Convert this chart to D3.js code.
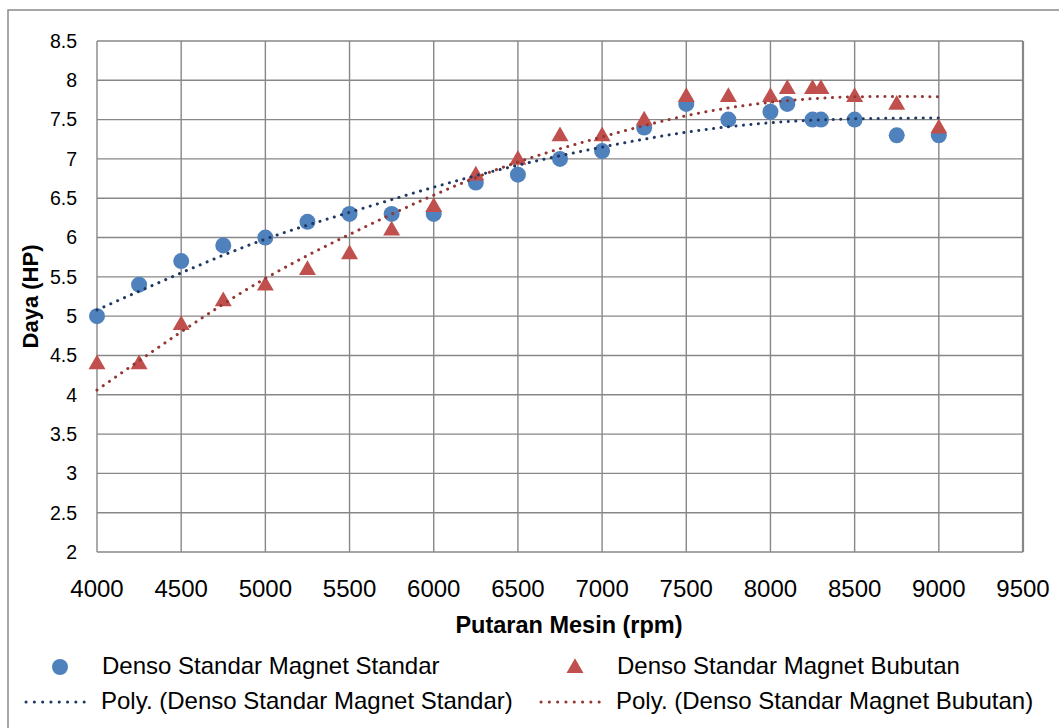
<!DOCTYPE html>
<html>
<head>
<meta charset="utf-8">
<script src="https://cdn.jsdelivr.net/npm/d3@7"></script>
<style>
  html, body { margin: 0; padding: 0; background: #fff; }
  svg { display: block; font-family: "Liberation Sans", Arial, sans-serif; }
</style>
</head>
<body>
<svg id="chart" width="1059" height="728"></svg>
<script>
// data
const rpm = [4000, 4250, 4500, 4750, 5000, 5250, 5500, 5750, 6000, 6250, 6500, 6750,
             7000, 7250, 7500, 7750, 8000, 8100, 8250, 8300, 8500, 8750, 9000];
const dayaStandar = [5.0, 5.4, 5.7, 5.9, 6.0, 6.2, 6.3, 6.3, 6.3, 6.7, 6.8, 7.0,
                     7.1, 7.4, 7.7, 7.5, 7.6, 7.7, 7.5, 7.5, 7.5, 7.3, 7.3];
const dayaBubutan = [4.4, 4.4, 4.9, 5.2, 5.4, 5.6, 5.8, 6.1, 6.4, 6.8, 7.0, 7.3,
                     7.3, 7.5, 7.8, 7.8, 7.8, 7.9, 7.9, 7.9, 7.8, 7.7, 7.4];
// trendline (poly) values as seen in the picture
const trendRpm = [4000, 4500, 5000, 5500, 6000, 6500, 7000, 7500, 8000, 8500, 9000];
const trendStandar = [5.08, 5.55, 5.98, 6.32, 6.64, 6.92, 7.15, 7.34, 7.46, 7.51, 7.52];
const trendBubutan = [4.06, 4.80, 5.48, 6.04, 6.54, 6.96, 7.28, 7.55, 7.72, 7.79, 7.79];

const xTicks = d3.range(4000, 9501, 500);
const yTicks = d3.range(2, 8.51, 0.5);

const legendItems = [
  { label: 'Denso Standar Magnet Standar', kind: 'circle', color: '#4F81BD', col: 0, row: 0 },
  { label: 'Denso Standar Magnet Bubutan', kind: 'triangle', color: '#C0504D', col: 1, row: 0 },
  { label: 'Poly. (Denso Standar Magnet Standar)', kind: 'dots', color: '#1F3864', col: 0, row: 1 },
  { label: 'Poly. (Denso Standar Magnet Bubutan)', kind: 'dots', color: '#943634', col: 1, row: 1 }
];

const svg = d3.select('#chart');

// outer chart border (cropped on right and bottom)
svg.append('rect').attr('x', 8).attr('y', 10).attr('width', 1100).attr('height', 800)
  .attr('fill', '#fff').attr('stroke', '#8a8a8a').attr('stroke-width', 1.5);

const x = d3.scaleLinear().domain([4000, 9500]).range([97, 1023]);
const y = d3.scaleLinear().domain([2, 8.5]).range([552, 41]);

// grid
const grid = svg.append('g').attr('stroke', '#878787').attr('stroke-width', 1.4);
grid.selectAll('line.v').data(xTicks).join('line').attr('class', 'v')
  .attr('x1', d => x(d)).attr('x2', d => x(d)).attr('y1', y(2)).attr('y2', y(8.5));
grid.selectAll('line.h').data(yTicks).join('line').attr('class', 'h')
  .attr('x1', x(4000)).attr('x2', x(9500)).attr('y1', d => y(d)).attr('y2', d => y(d));
grid.append('line').attr('x1', x(9500)).attr('x2', x(9500)).attr('y1', y(8.5)).attr('y2', y(2))
  .attr('stroke-width', 2.2);

// tick labels
svg.append('g').selectAll('text').data(xTicks).join('text')
  .attr('x', d => x(d)).attr('y', 597).attr('text-anchor', 'middle')
  .attr('font-size', 24).attr('fill', '#000').text(d => d);
svg.append('g').selectAll('text').data(yTicks).join('text')
  .attr('x', 77).attr('y', d => y(d)).attr('dy', '0.35em').attr('text-anchor', 'end')
  .attr('font-size', 19.5).attr('fill', '#000').text(d => d3.format('~g')(d));

// axis titles
svg.append('text').attr('x', 569).attr('y', 633).attr('text-anchor', 'middle')
  .attr('font-size', 23.5).attr('font-weight', 'bold').text('Putaran Mesin (rpm)');
svg.append('text').attr('transform', `translate(38,${(y(2) + y(8.5)) / 2}) rotate(-90)`)
  .attr('text-anchor', 'middle').attr('font-size', 22).attr('font-weight', 'bold').text('Daya (HP)');

// markers
const tri = d3.symbol().type(d3.symbolTriangle).size(125);
svg.append('g').selectAll('circle').data(rpm).join('circle')
  .attr('cx', d => x(d)).attr('cy', (d, i) => y(dayaStandar[i])).attr('r', 8)
  .attr('fill', '#4F81BD');
svg.append('g').selectAll('path').data(rpm).join('path')
  .attr('transform', (d, i) => `translate(${x(d)},${y(dayaBubutan[i]) + 1})`)
  .attr('d', tri).attr('fill', '#C0504D');

// trendlines
const line = d3.line().x((d, i) => x(trendRpm[i])).y(d => y(d)).curve(d3.curveNatural);
[[trendStandar, '#1F3864'], [trendBubutan, '#943634']].forEach(([vals, col]) => {
  svg.append('path').datum(vals).attr('d', line).attr('fill', 'none')
    .attr('stroke', col).attr('stroke-width', 3).attr('stroke-linecap', 'round')
    .attr('stroke-dasharray', '0.1 7.4');
});

// legend
const colX = [25, 540];
const rowY = [674, 709];
const lg = svg.append('g');
legendItems.forEach(it => {
  const x0 = colX[it.col], by = rowY[it.row], cy = by - 7;
  if (it.kind === 'circle') {
    lg.append('circle').attr('cx', x0 + 35).attr('cy', cy).attr('r', 8).attr('fill', it.color);
  } else if (it.kind === 'triangle') {
    lg.append('path').attr('transform', `translate(${x0 + 35},${cy + 1})`).attr('d', tri).attr('fill', it.color);
  } else {
    lg.append('line').attr('x1', x0 + 1).attr('x2', x0 + 67).attr('y1', cy).attr('y2', cy)
      .attr('stroke', it.color).attr('stroke-width', 3).attr('stroke-linecap', 'round')
      .attr('stroke-dasharray', '0.1 8.2');
  }
  lg.append('text').attr('x', x0 + (it.kind === 'dots' ? 76 : 77)).attr('y', by)
    .attr('font-size', 24).attr('fill', '#000').text(it.label);
});
</script>
</body>
</html>
